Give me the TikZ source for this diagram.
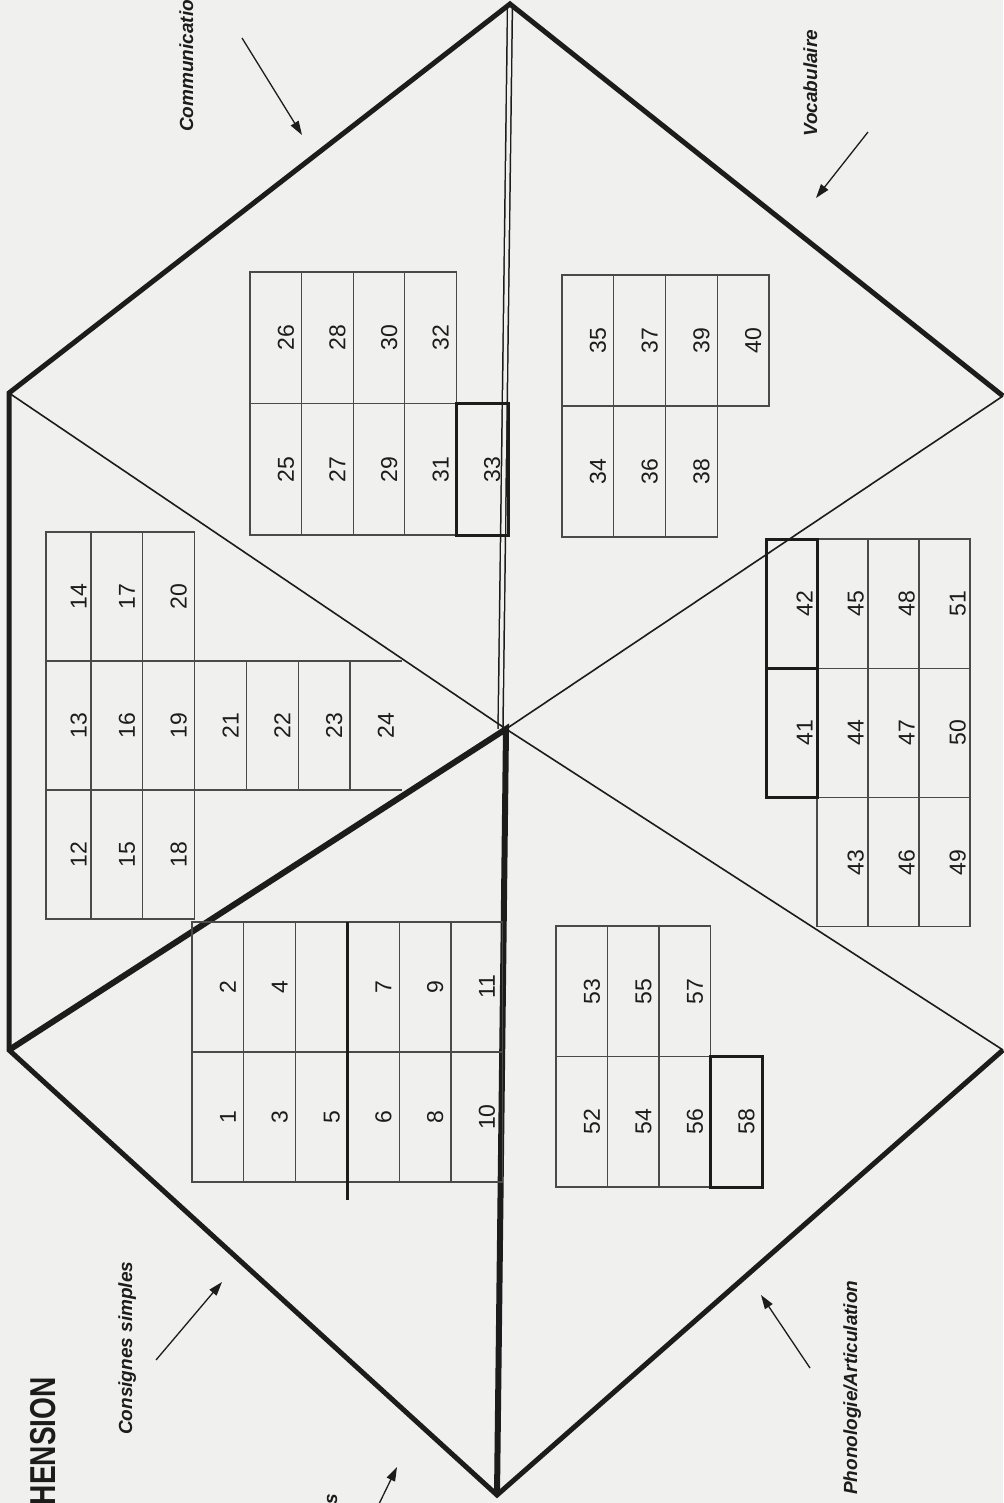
\documentclass[tikz,border=0pt]{standalone}
\usepackage{fontspec}
\setmainfont{Liberation Sans}
\newfontfamily\headfont[FakeStretch=0.78]{Liberation Sans}
\usepackage{xcolor}
\definecolor{ink}{HTML}{1C1C1C}
\definecolor{gridc}{HTML}{4A4A4A}
\definecolor{paper}{HTML}{F0F0EE}
\newcommand\cellfont{\fontsize{23}{26}\selectfont}
\newcommand\tagfont{\fontsize{19}{22}\selectfont\bfseries\itshape}
\usepackage{tikz}
\usetikzlibrary{arrows.meta}

\begin{document}
\begin{tikzpicture}[
  x=1pt,y=-1pt,
  edge/.style={draw=ink,line width=5pt},
  spoke/.style={draw=ink,line width=1.6pt},
  spine/.style={draw=ink,double=paper,double distance=3.4pt,line width=1.5pt},
  gridline/.style={draw=gridc,line width=1.1pt},
  rule/.style={draw=ink,line width=3pt},
  cell/.style={gridline,rotate=90,inner sep=0pt,outer sep=0pt,
    text height=36pt,text depth=0pt,font=\cellfont,text=ink},
  keycell/.style={draw=ink,line width=3pt},
  g1/.style={cell,minimum width=130pt,minimum height=51.8pt},
  g2/.style={cell,minimum width=129pt,minimum height=51.8pt},
  g3/.style={cell,minimum width=131.5pt,minimum height=51.6pt},
  g4/.style={cell,minimum width=131pt,minimum height=51.75pt},
  g5/.style={cell,minimum width=129.3pt,minimum height=51pt,text height=42pt},
  g6/.style={cell,minimum width=130.5pt,minimum height=51.5pt},
  tag/.style={rotate=90,inner sep=0pt,font=\tagfont,text=ink},
  heading/.style={rotate=90,inner sep=0pt,font=\headfont\bfseries\fontsize{36}{40}\selectfont,text=ink},
  pointer/.style={-{Triangle[length=14pt,width=9pt]},draw=ink,line width=1.3pt}
]
\path[fill=paper,use as bounding box] (0,0) rectangle (1003,1503);

\coordinate (T) at (510,4);
\coordinate (UL) at (9,393);
\coordinate (LL) at (9,1050);
\coordinate (B) at (497,1495);
\coordinate (LR) at (1003,1050);
\coordinate (UR) at (1003,396);
\coordinate (C) at (506,729);
\coordinate (Cd) at (500.5,729);

\draw[spine] (Cd) -- (T);
\draw[spoke] (UL) -- (C) -- (LR);
\draw[spoke] (C) -- (UR);
\draw[edge] (UR) -- (T) -- (UL) -- (LL) -- (B) -- (LR);
\draw[edge,line width=6pt] (LL) -- (C) -- (B);

\foreach \c/\r/\n in {0/0/2,0/1/1,1/0/4,1/1/3,2/1/5,3/0/7,3/1/6,4/0/9,4/1/8,5/0/11,5/1/10}
  \node[g1] (c\n) at ({192+(\c+0.5)*51.8},{922+(\r+0.5)*130}) {\n};
\node[g1] (blank) at ({192+2.5*51.8},{922+0.5*130}) {};
\draw[rule] (blank.south east) -- ++(0,278);

\foreach \r/\n in {0/14,1/13,2/12}
  \node[g2,minimum height=45pt] (c\n) at (68.5,{532+(\r+0.5)*129}) {\n};
\foreach \c/\r/\n in {0/0/17,0/1/16,0/2/15,1/0/20,1/1/19,1/2/18,2/1/21,3/1/22,4/1/23}
  \node[g2] (c\n) at ({91+(\c+0.5)*51.8},{532+(\r+0.5)*129}) {\n};
\node[g2,draw=none] (c24) at ({91+5.5*51.8},{532+1.5*129}) {24};
\draw[gridline] (c24.north east) -- (c24.south east);
\draw[gridline] (c24.north west) -- (c24.south west);

\foreach \c/\r/\n in {0/0/26,0/1/25,1/0/28,1/1/27,2/0/30,2/1/29,3/0/32,3/1/31}
  \node[g3] (c\n) at ({250+(\c+0.5)*51.6},{272+(\r+0.5)*131.5}) {\n};
\node[g3,keycell] (c33) at ({250+4.5*51.6},{272+1.5*131.5}) {33};

\foreach \c/\r/\n in {0/0/35,0/1/34,1/0/37,1/1/36,2/0/39,2/1/38,3/0/40}
  \node[g4] (c\n) at ({562+(\c+0.5)*51.75},{275+(\r+0.5)*131}) {\n};

\foreach \c/\r/\n in {1/0/45,1/1/44,1/2/43,2/0/48,2/1/47,2/2/46,3/0/51,3/1/50,3/2/49}
  \node[g5] (c\n) at ({766+(\c+0.5)*51},{539+(\r+0.5)*129.3}) {\n};
\node[g5,keycell] (c42) at ({766+0.5*51},{539+0.5*129.3}) {42};
\node[g5,keycell] (c41) at ({766+0.5*51},{539+1.5*129.3}) {41};

\foreach \c/\r/\n in {0/0/53,0/1/52,1/0/55,1/1/54,2/0/57,2/1/56}
  \node[g6] (c\n) at ({556+(\c+0.5)*51.5},{926+(\r+0.5)*130.5}) {\n};
\node[g6,keycell] (c58) at ({556+3.5*51.5},{926+1.5*130.5}) {58};

\node[heading,anchor=base east] (title) at (55,1377) {HENSION};
\node[tag,anchor=base west] (comm) at (193,132) {Communicatio};
\node[tag,anchor=base west] (voc) at (817,137) {Vocabulaire};
\node[tag,anchor=base west] (cons) at (132,1435) {Consignes simples};
\node[tag,anchor=base west] (phon) at (857,1495) {Phonologie/Articulation};
\node[tag,anchor=base east] (cplx) at (337,1494) {s};

\coordinate (comm-a) at (242,38);
\coordinate (comm-b) at (302,135);
\coordinate (voc-a) at (868,132);
\coordinate (voc-b) at (816,198);
\coordinate (cons-a) at (156,1360);
\coordinate (cons-b) at (222,1282);
\coordinate (cplx-a) at (378,1506);
\coordinate (cplx-b) at (397,1467);
\coordinate (phon-a) at (810,1368);
\coordinate (phon-b) at (761,1295);
\draw[pointer] (comm-a) -- (comm-b);
\draw[pointer] (voc-a) -- (voc-b);
\draw[pointer] (cons-a) -- (cons-b);
\draw[pointer] (cplx-a) -- (cplx-b);
\draw[pointer] (phon-a) -- (phon-b);
\end{tikzpicture}
\end{document}
